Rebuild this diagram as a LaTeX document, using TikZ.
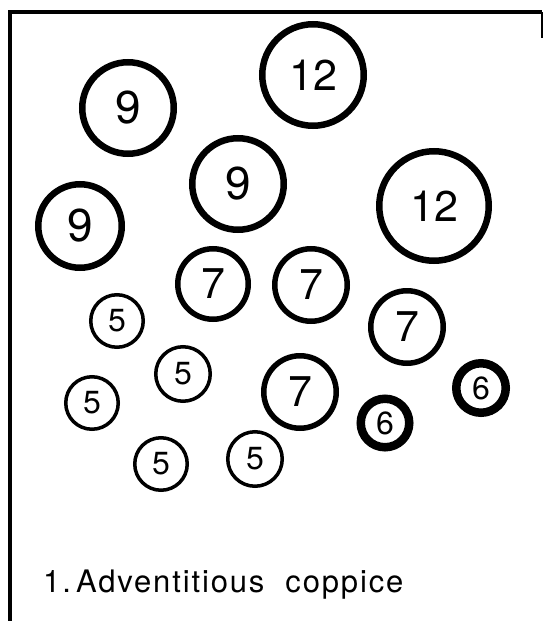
\documentclass[tikz,border=0pt]{standalone}
\usepackage{fontspec}
\setmainfont{TeX Gyre Heros}
\newfontfamily\lblfont[LetterSpace=6]{TeX Gyre Heros}
\begin{document}
\begin{tikzpicture}[x=1pt,y=-1pt,
  tree/.style={circle,draw,inner sep=0pt},
  big/.style={tree,line width=6.5pt,font=\fontsize{46}{46}\selectfont},
  twelve/.style={tree,line width=6.5pt,font=\fontsize{43}{43}\selectfont},
  seven/.style={tree,line width=5.5pt,font=\fontsize{43}{43}\selectfont},
  five/.style={tree,line width=3.5pt,font=\fontsize{32}{32}\selectfont},
  six/.style={tree,line width=8.5pt,font=\fontsize{32}{32}\selectfont}]
\useasboundingbox (0,0) rectangle (544,621);
% frame
\draw[line width=3.5pt] (10,621) -- (10,12) -- (542,12);
\draw[line width=1.5pt] (542,12) -- (542,38);
% circles
\node[big,minimum size=91.5pt] (n9a) at (128,108) {9};
\node[twelve,minimum size=101.5pt] (n12a) at (313,75) {12};
\node[big,minimum size=91.5pt] (n9b) at (238,184) {9};
\node[twelve,minimum size=109.5pt] (n12b) at (434,206) {12};
\node[big,minimum size=83.5pt] (n9c) at (80,226) {9};
\node[seven,minimum size=70.5pt] (n7a) at (213,284) {7};
\node[seven,minimum size=72.5pt] (n7b) at (311,285) {7};
\node[seven,minimum size=72.5pt] (n7c) at (407,327) {7};
\node[seven,minimum size=72.5pt] (n7d) at (300,392) {7};
\node[five,minimum size=52.5pt] (n5a) at (117,321) {5};
\node[five,minimum size=54.5pt] (n5b) at (183,374) {5};
\node[five,minimum size=52.5pt] (n5c) at (92,403) {5};
\node[five,minimum size=52.5pt] (n5d) at (161,464) {5};
\node[five,minimum size=54.5pt] (n5e) at (255,459) {5};
\node[six,minimum size=48.5pt] (n6a) at (385,423) {6};
\node[six,minimum size=49.5pt] (n6b) at (481,388) {6};
% label
\node[anchor=base west,inner sep=0pt,font=\lblfont\fontsize{31}{31}\selectfont] (lbl) at (43,592) {1.\,Adventitious\ \ coppice};
\end{tikzpicture}
\end{document}
